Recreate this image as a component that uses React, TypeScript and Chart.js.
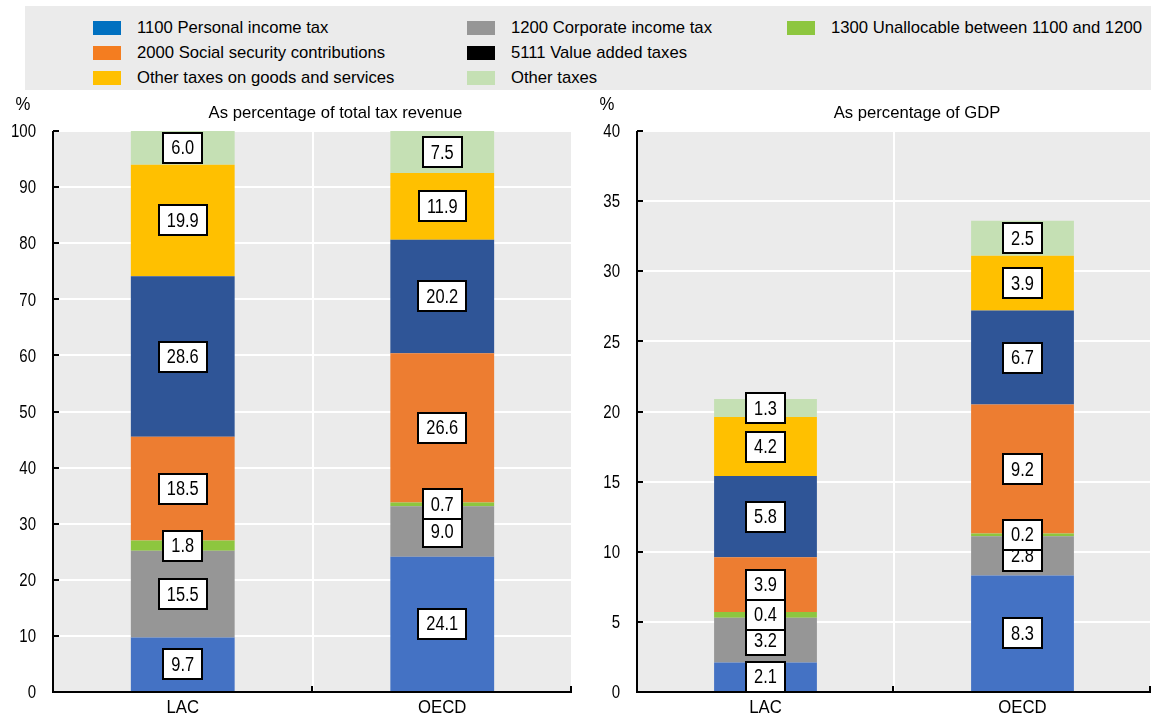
import React, { useEffect, useRef } from "react";
import { Chart, registerables } from "chart.js";

Chart.register(...registerables);

const FONT = "'Liberation Sans', Arial, sans-serif";

// horizontal squeeze factors for the different text roles
const SQUEEZE_VALUE = 0.82; // boxed value labels and axis numbers
const SQUEEZE_CATEGORY = 0.93;
const SQUEEZE_TEXT = 0.98; // titles and legend

const categories = ["LAC", "OECD"];

const seriesNames = [
  "1100 Personal income tax",
  "1200 Corporate income tax",
  "1300 Unallocable between 1100 and 1200",
  "2000 Social security contributions",
  "5111 Value added taxes",
  "Other taxes on goods and services",
  "Other taxes",
];

const barColors = ["#4472C4", "#969696", "#8DC63F", "#ED7D31", "#2F5597", "#FFC000", "#C5E0B4"];
const legendColors = ["#0070C0", "#969696", "#8DC63F", "#F47D20", "#000000", "#FFC000", "#C5E0B4"];

// Tax structure as percentage of total tax revenue (series order as seriesNames)
const revenueLAC = [9.7, 15.5, 1.8, 18.5, 28.6, 19.9, 6.0];
const revenueOECD = [24.1, 9.0, 0.7, 26.6, 20.2, 11.9, 7.5];

// Tax structure as percentage of GDP
const gdpLAC = [2.1, 3.2, 0.4, 3.9, 5.8, 4.2, 1.3];
const gdpOECD = [8.3, 2.8, 0.2, 9.2, 6.7, 3.9, 2.5];

const revenueAxis = { max: 100, step: 10 };
const gdpAxis = { max: 40, step: 5 };

const PLOT_BG = "#EBEBEB";

function buildDatasets(lac: number[], oecd: number[]) {
  return seriesNames.map((name, s) => ({
    label: name,
    data: [lac[s], oecd[s]],
    backgroundColor: barColors[s],
    borderWidth: 0,
    barPercentage: 0.4,
    categoryPercentage: 1.0,
  }));
}

function squeezedText(ctx: CanvasRenderingContext2D, text: string, x: number, y: number, align: CanvasTextAlign, k: number) {
  ctx.save();
  ctx.translate(x, y);
  ctx.scale(k, 1);
  ctx.textAlign = align;
  ctx.fillText(text, 0, 0);
  ctx.restore();
}

const panelPlugin = (title: string) => ({
  id: "panelDecor",
  beforeDraw(chart: any) {
    const { ctx, chartArea: a } = chart;
    ctx.save();
    ctx.fillStyle = PLOT_BG;
    ctx.fillRect(a.left, a.top, a.right - a.left, a.bottom - a.top);
    ctx.restore();
  },
  afterDatasetsDraw(chart: any) {
    const ctx = chart.ctx;
    ctx.save();
    ctx.font = `20px ${FONT}`;
    ctx.textBaseline = "middle";
    chart.data.datasets.forEach((ds: any, di: number) => {
      const meta = chart.getDatasetMeta(di);
      meta.data.forEach((bar: any, i: number) => {
        const v = ds.data[i] as number;
        const { x, y, base } = bar.getProps(["x", "y", "base"], true);
        const cy = (y + base) / 2;
        const text = v.toFixed(1);
        const tw = ctx.measureText(text).width * SQUEEZE_VALUE;
        const w = Math.round(tw + 16);
        const h = 30;
        const bx = Math.round(x - w / 2);
        const by = Math.round(cy - h / 2);
        ctx.fillStyle = "#FFFFFF";
        ctx.fillRect(bx, by, w, h);
        ctx.lineWidth = 2;
        ctx.strokeStyle = "#000000";
        ctx.strokeRect(bx, by, w, h);
        ctx.fillStyle = "#000000";
        squeezedText(ctx, text, x, cy + 1, "center", SQUEEZE_VALUE);
      });
    });
    ctx.restore();
  },
  afterDraw(chart: any) {
    const { ctx, chartArea: a } = chart;
    const yScale = chart.scales.y;
    const xScale = chart.scales.x;
    ctx.save();
    ctx.strokeStyle = "#000000";
    ctx.lineWidth = 2;
    ctx.lineCap = "butt";
    // axis lines
    ctx.beginPath();
    ctx.moveTo(a.left, a.top);
    ctx.lineTo(a.left, a.bottom + 1);
    ctx.moveTo(a.left - 1, a.bottom);
    ctx.lineTo(a.right, a.bottom);
    ctx.stroke();
    // inward tick marks on the value axis
    ctx.beginPath();
    yScale.ticks.forEach((t: any) => {
      const py = Math.round(yScale.getPixelForValue(t.value));
      ctx.moveTo(a.left, py);
      ctx.lineTo(a.left + 6, py);
    });
    // upward tick marks at category boundaries
    const n = categories.length;
    const catW = (a.right - a.left) / n;
    for (let i = 1; i <= n; i++) {
      const px = Math.round(a.left + catW * i) - 1;
      ctx.moveTo(px, a.bottom);
      ctx.lineTo(px, a.bottom - 6);
    }
    ctx.stroke();

    ctx.fillStyle = "#000000";
    ctx.textBaseline = "middle";
    // value axis labels
    ctx.font = `19px ${FONT}`;
    yScale.ticks.forEach((t: any) => {
      const py = yScale.getPixelForValue(t.value);
      squeezedText(ctx, String(t.value), a.left - 17, py + 1, "right", 0.79);
    });
    // category labels
    ctx.font = `18px ${FONT}`;
    categories.forEach((c, i) => {
      squeezedText(ctx, c, xScale.getPixelForValue(i), a.bottom + 16, "center", SQUEEZE_CATEGORY);
    });
    // panel title and unit
    ctx.font = `17px ${FONT}`;
    squeezedText(ctx, title, (a.left + a.right) / 2 + 23, a.top - 18, "center", SQUEEZE_TEXT);
    ctx.font = `18px ${FONT}`;
    squeezedText(ctx, "%", a.left - 30, a.top - 26, "center", SQUEEZE_CATEGORY);
    ctx.restore();
  },
});

function makeConfig(lac: number[], oecd: number[], axis: { max: number; step: number }, title: string, padRight: number, yWidth: number): any {
  return {
    type: "bar",
    data: { labels: categories, datasets: buildDatasets(lac, oecd) },
    options: {
      responsive: false,
      animation: false,
      devicePixelRatio: 1,
      layout: { padding: { top: 36, right: padRight, bottom: 0, left: 0 } },
      plugins: {
        legend: { display: false },
        tooltip: { enabled: false },
        title: { display: false },
      },
      scales: {
        x: {
          stacked: true,
          grid: { offset: true, color: "#FFFFFF", lineWidth: 2, drawTicks: false },
          border: { display: false },
          ticks: { display: false },
          afterFit: (scale: any) => {
            scale.height = 26;
          },
        },
        y: {
          stacked: true,
          min: 0,
          max: axis.max,
          grid: { color: "#FFFFFF", lineWidth: 2, drawTicks: false },
          border: { display: false },
          ticks: { display: false, stepSize: axis.step },
          afterFit: (scale: any) => {
            scale.width = yWidth;
          },
        },
      },
    },
    plugins: [panelPlugin(title)],
  };
}

function Panel(props: { config: any; left: number; width: number; height: number; top: number }) {
  const ref = useRef<HTMLCanvasElement | null>(null);
  useEffect(() => {
    if (!ref.current) return;
    const chart = new Chart(ref.current, props.config);
    return () => chart.destroy();
  }, []);
  return (
    <canvas
      ref={ref}
      width={props.width}
      height={props.height}
      style={{ position: "absolute", left: props.left, top: props.top, width: props.width, height: props.height }}
    />
  );
}

function Legend() {
  const colX = [68, 442, 762];
  return (
    <div
      style={{
        position: "absolute",
        left: 25,
        top: 6,
        width: 1126,
        height: 84,
        background: PLOT_BG,
        fontFamily: FONT,
        fontSize: 17,
        color: "#000",
      }}
    >
      {seriesNames.map((name, i) => {
        const col = i < 3 ? i : (i - 3) % 2;
        const row = i < 3 ? 0 : 1 + Math.floor((i - 3) / 2);
        return (
          <div
            key={name}
            style={{
              position: "absolute",
              left: colX[col],
              top: 10 + row * 25,
              height: 24,
              display: "flex",
              alignItems: "center",
              whiteSpace: "nowrap",
            }}
          >
            <span style={{ display: "inline-block", width: 28, height: 14, background: legendColors[i], marginRight: 16 }} />
            <span style={{ display: "inline-block", transform: `scaleX(${SQUEEZE_TEXT})`, transformOrigin: "left center" }}>{name}</span>
          </div>
        );
      })}
    </div>
  );
}

export default function App() {
  const revenueConfig = makeConfig(revenueLAC, revenueOECD, revenueAxis, "As percentage of total tax revenue", 8, 53);
  const gdpConfig = makeConfig(gdpLAC, gdpOECD, gdpAxis, "As percentage of GDP", 0, 57);
  return (
    <div style={{ position: "fixed", left: 0, top: 0, width: 1151, height: 718, background: "#FFFFFF", overflow: "hidden" }}>
      <Legend />
      <Panel config={revenueConfig} left={0} top={95} width={580} height={623} />
      <Panel config={gdpConfig} left={580} top={95} width={571} height={623} />
    </div>
  );
}
